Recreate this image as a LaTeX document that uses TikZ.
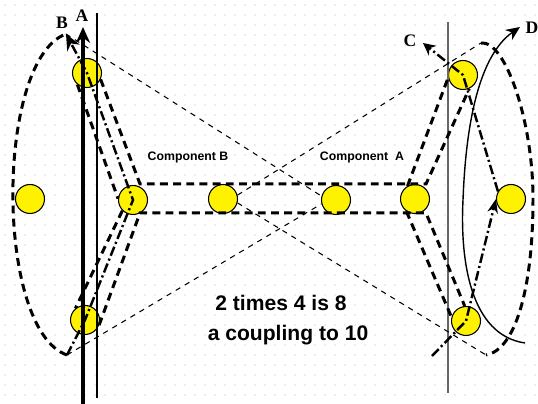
\documentclass[tikz,border=0pt]{standalone}
\usepackage{fontspec}
\setmainfont{Liberation Sans}
\newfontfamily\serifb{Liberation Serif}
\usepackage{tikz}
\usetikzlibrary{arrows.meta}

\begin{document}
\begin{tikzpicture}[x=0.02cm,y=-0.02cm,
  ball/.style={circle,draw,fill=yellow,minimum size=0.58cm,inner sep=0pt,line width=0.6pt},
  hd/.style={line width=1.7pt,dash pattern=on 4.5pt off 3pt},
  dd/.style={line width=1.4pt,dash pattern=on 5.5pt off 1.8pt on 1.2pt off 1.8pt},
  td/.style={line width=0.6pt,dash pattern=on 3pt off 3pt},
  lbl/.style={font=\serifb\bfseries\fontsize{10}{12}\selectfont,inner sep=0pt},
  cmp/.style={font=\bfseries\fontsize{7}{8}\selectfont,inner sep=0pt},
  txt/.style={font=\bfseries\fontsize{12}{14}\selectfont,inner sep=0pt},
  ar/.style={-{Stealth[length=9pt,width=8pt]}}]
  \useasboundingbox (0,0) rectangle (538,404);
  % dotted background
  \foreach \x in {5,15,...,535}
    \foreach \y in {5,15,...,395}
      \fill[black!30] (\x,\y) circle[radius=0.55];
  % balls
  \node[ball] (tl) at (87,73) {};
  \node[ball] (fl) at (30,199) {};
  \node[ball] (il) at (133,200) {};
  \node[ball] (bl) at (85,320) {};
  \node[ball] (m1) at (223,199) {};
  \node[ball] (m2) at (336,200) {};
  \node[ball] (ir) at (415,199) {};
  \node[ball] (tr) at (463,75) {};
  \node[ball] (fr) at (511,199) {};
  \node[ball] (br) at (466,321) {};
  % free ends
  \coordinate (ltp) at (66,34);
  \coordinate (lbt) at (67,355);
  \coordinate (rtp) at (481,43);
  \coordinate (rbt) at (486,355);
  \coordinate (blc) at (432,356);
  \coordinate (r1) at (140,184);
  \coordinate (r2) at (426,184);
  \coordinate (r3) at (140,213);
  \coordinate (r4) at (426,213);
  \coordinate (abot) at (83,404);
  \coordinate (atip) at (83,27);
  \coordinate (ctip) at (423,43);
  \coordinate (dtip) at (520,27);
  \coordinate (dst) at (525,343);
  % labels
  \node[lbl] (labA) at (82,16) {A};
  \node[lbl] (labB) at (62,23) {B};
  \node[lbl] (labC) at (410,41) {C};
  \node[lbl] (labD) at (532,28) {D};
  \node[cmp] (cb) at (188,157) {Component B};
  \node[cmp] (ca) at (362,157) {Component\ \ A};
  \node[txt] (t1) at (281,303) {2 times 4 is 8};
  \node[txt] (t2) at (288,335) {a coupling to 10};
  % axes
  \draw[line width=2pt,ar] (abot) -- (atip);
  \draw[line width=1.1pt] (97,13) -- (97,398);
  \draw[black!60,line width=0.9pt] (448,22) -- (448,393);
  % outer loops
  \draw[hd] (lbt) .. controls (-5,330) and (-5,60) .. (ltp);
  \draw[hd] (rtp) .. controls (505,40) and (533,120) .. (533,199)
    .. controls (533,290) and (515,350) .. (rbt);
  % thin couplings
  \draw[td] (ltp) -- (m2.165);
  \draw[td] (lbt) -- (m2.195);
  \draw[td] (m1.15) -- (rtp);
  \draw[td] (m1.-15) -- (rbt);
  % components
  \draw[hd] (tl.230) -- (il.175);
  \draw[hd] (tl.-25) -- (r1) -- (r2) -- (tr.-65);
  \draw[hd] (il.225) -- (bl.130);
  \draw[hd] (bl.-20) -- (r3) -- (r4) -- (br.95);
  \draw[hd] (ir.120) -- (tr.190);
  \draw[hd] (ir.235) -- (br.165);
  % moves
  \draw[dd,ar] (lbt) -- (bl.center) -- (il.center) -- (tl.center) -- (ltp);
  \draw[dd,-{Stealth[length=8pt,width=6pt]}] (blc) -- (br.center) -- (fr.west);
  \draw[dd,-{Stealth[length=7pt,width=7pt]}] (fr.150) -- (tr.center) -- (ctip);
  \draw[line width=0.8pt,-{Stealth[length=8pt,width=7pt]}] (dst)
    .. controls (470,335) and (460,260) .. (463,200)
    .. controls (466,120) and (480,55) .. (dtip);
\end{tikzpicture}
\end{document}
